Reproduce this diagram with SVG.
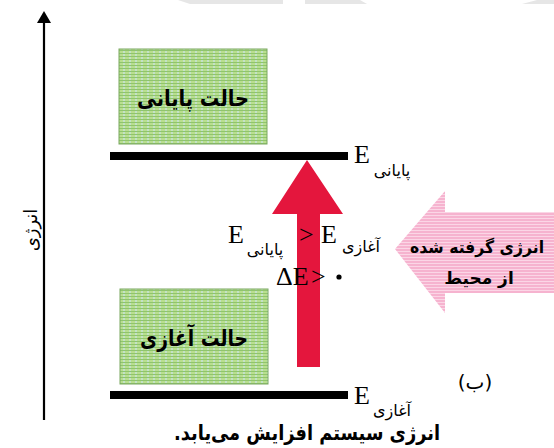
<svg xmlns="http://www.w3.org/2000/svg" width="554" height="448" viewBox="0 0 554 448">
<defs>
<pattern id="green" width="6" height="3" patternUnits="userSpaceOnUse">
<rect width="6" height="3" fill="#b9df8f"/>
<rect x="3" width="2" height="3" fill="#c3e2c8"/>
<rect y="2" width="6" height="1" fill="#8fc46e"/>
</pattern>
<pattern id="pink" width="4" height="3" patternUnits="userSpaceOnUse">
<rect width="4" height="3" fill="#f6b3cf"/>
<rect y="2" width="4" height="1" fill="#fbd6e6"/>
</pattern>
</defs>
<style>
.box{fill:url(#green);stroke:#7aa860;stroke-width:1}
.lvl{stroke:#000;stroke-width:8}
.fa{font-family:"DejaVu Sans",sans-serif;fill:#000;direction:rtl;unicode-bidi:embed}
.boxt{font-size:23px;font-weight:bold;text-anchor:middle}
.E{font-family:"Liberation Serif",serif;font-size:26px;fill:#000}
.sub{font-size:16px;text-anchor:middle}
</style>
<g id="watermark" fill="#e6e6e6">
<polygon points="178,0 283,0 283,4 190,4"/>
<polygon points="305,0 360,0 367,4 305,4"/>
<polygon points="522,4 537,0 554,0 554,4"/>
</g>
<g id="axis">
<line x1="44" y1="20" x2="44" y2="420" stroke="#000" stroke-width="2.2"/>
<polygon points="44,11 37,23 51,23" fill="#000"/>
<text class="fa" font-size="18" text-anchor="middle" direction="rtl" transform="translate(37,230) rotate(-90)">انرژی</text>
</g>
<g id="final-state">
<rect class="box" x="119" y="49" width="148" height="95"/>
<text class="fa boxt" direction="rtl" x="193" y="106" textLength="112" lengthAdjust="spacingAndGlyphs">حالت پایانی</text>
</g>
<g id="initial-state">
<rect class="box" x="120" y="289" width="148" height="95"/>
<text class="fa boxt" direction="rtl" x="194" y="346" textLength="108" lengthAdjust="spacingAndGlyphs">حالت آغازی</text>
</g>
<g id="levels">
<line class="lvl" x1="110" y1="156" x2="348" y2="156"/>
<line class="lvl" x1="110" y1="395" x2="348" y2="395"/>
<text class="E" x="354" y="163">E</text>
<text class="fa sub" direction="rtl" x="392" y="176">پایانی</text>
<text class="E" x="354" y="404">E</text>
<text class="fa sub" direction="rtl" x="392" y="416">آغازی</text>
</g>
<g id="connectors">
<polygon id="red-arrow" points="307,160 343,214 320,214 320,367 297,367 297,214 272,214" fill="#e4163d"/>
<polygon id="pink-arrow" points="395,249 445,191 445,212 554,212 554,293 445,293 445,313" fill="url(#pink)"/>
</g>
<g id="formula">
<text class="E" x="228" y="243">E</text>
<text class="fa sub" direction="rtl" x="265" y="255">پایانی</text>
<text x="299" y="243" font-family="Liberation Serif,serif" font-size="26">&gt;</text>
<text class="E" x="321" y="243">E</text>
<text class="fa sub" direction="rtl" x="361" y="252">آغازی</text>
<text x="276" y="285" font-family="Liberation Serif,serif" font-size="26">ΔE</text>
<text x="311" y="285" font-family="Liberation Serif,serif" font-size="26">&gt;</text>
<circle cx="339" cy="277" r="2.6" fill="#000"/>
</g>
<g id="env-label">
<text class="fa" direction="rtl" x="477" y="253" font-size="17" font-weight="bold" text-anchor="middle" textLength="134" lengthAdjust="spacingAndGlyphs">انرژی گرفته شده</text>
<text class="fa" direction="rtl" x="479" y="284" font-size="17" font-weight="bold" text-anchor="middle">از محیط</text>
</g>
<text class="fa" direction="rtl" x="475" y="389" font-size="20" text-anchor="middle">(ب)</text>
<text class="fa" direction="rtl" x="307" y="440" font-size="21" font-weight="bold" text-anchor="middle" textLength="266" lengthAdjust="spacingAndGlyphs">انرژی سیستم افزایش می‌یابد.</text>
</svg>
